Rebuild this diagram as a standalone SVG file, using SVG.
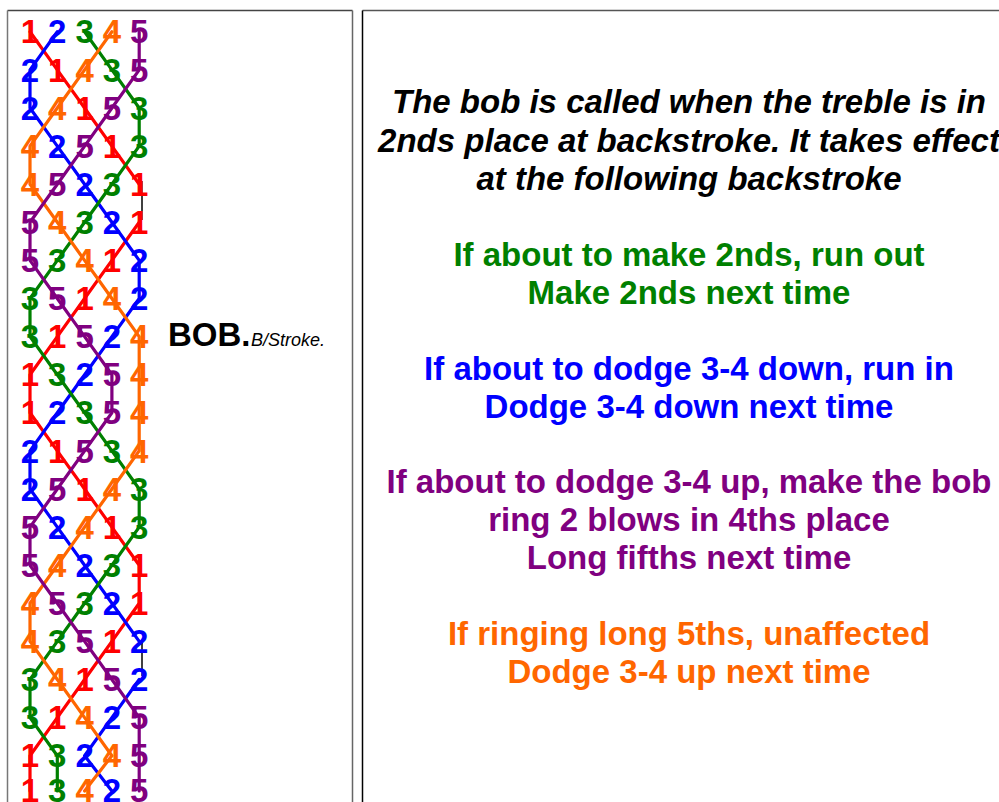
<svg xmlns="http://www.w3.org/2000/svg" width="999" height="802" viewBox="0 0 999 802">
<style>
.d{font-family:"Liberation Sans",Arial,sans-serif;font-weight:bold;font-size:33px;text-anchor:middle}
.b1{fill:#ff0000}.b2{fill:#0000ff}.b3{fill:#008000}.b4{fill:#ff6600}.b5{fill:#800080}
.l{fill:none;stroke-width:3.2;stroke-linejoin:round;stroke-linecap:round}
.s1{stroke:#ff0000}.s2{stroke:#0000ff}.s3{stroke:#008000}.s4{stroke:#ff6600}.s5{stroke:#800080}
.blk{stroke:#000;stroke-width:1.5}
.t{font-family:"Liberation Sans",Arial,sans-serif;font-weight:bold;font-size:33px;text-anchor:middle}
.h{font-style:italic;fill:#000}
</style>
<rect width="999" height="802" fill="#fff"/>
<g id="frame" fill="none">
<line x1="7.5" y1="10.5" x2="352.5" y2="10.5" stroke="#444" stroke-width="1.5"/>
<line x1="7.5" y1="10.5" x2="7.5" y2="802" stroke="#777" stroke-width="1.5"/>
<line x1="352.5" y1="10.5" x2="352.5" y2="802" stroke="#666" stroke-width="1.5"/>
<line x1="362.5" y1="10.5" x2="999" y2="10.5" stroke="#555" stroke-width="1.5"/>
<line x1="362.5" y1="10.5" x2="362.5" y2="802" stroke="#000" stroke-width="1.5"/>
</g>
<g id="connectors">
<polyline class="l s1" points="30,31.8 57.3,69.9 84.6,108 111.9,146.1 139.2,184.2"/>
<polyline class="l s1" points="139.2,222.3 111.9,260.4 84.6,298.5 57.3,336.6 30,374.7 30,412.8 57.3,450.9 84.6,489 111.9,527.1 139.2,565.2 139.2,603.3 111.9,641.4 84.6,679.5 57.3,717.6 30,755.7 30,791"/>
<polyline class="l s2" points="57.3,31.8 30,69.9 30,108 57.3,146.1 84.6,184.2 111.9,222.3 139.2,260.4 139.2,298.5 111.9,336.6 84.6,374.7 57.3,412.8 30,450.9 30,489 57.3,527.1 84.6,565.2 111.9,603.3 139.2,641.4"/>
<polyline class="l s2" points="139.2,679.5 111.9,717.6 84.6,755.7 111.9,791"/>
<polyline class="l s3" points="84.6,31.8 111.9,69.9 139.2,108 139.2,146.1 111.9,184.2 84.6,222.3 57.3,260.4 30,298.5 30,336.6 57.3,374.7 84.6,412.8 111.9,450.9 139.2,489 139.2,527.1 111.9,565.2 84.6,603.3 57.3,641.4 30,679.5 30,717.6 57.3,755.7 57.3,791"/>
<polyline class="l s4" points="111.9,31.8 84.6,69.9 57.3,108 30,146.1 30,184.2 57.3,222.3 84.6,260.4 111.9,298.5 139.2,336.6 139.2,374.7 139.2,412.8 139.2,450.9 111.9,489 84.6,527.1 57.3,565.2 30,603.3 30,641.4 57.3,679.5 84.6,717.6 111.9,755.7 84.6,791"/>
<polyline class="l s5" points="139.2,31.8 139.2,69.9 111.9,108 84.6,146.1 57.3,184.2 30,222.3 30,260.4 57.3,298.5 84.6,336.6 111.9,374.7 111.9,412.8 84.6,450.9 57.3,489 30,527.1 30,565.2 57.3,603.3 84.6,641.4 111.9,679.5 139.2,717.6 139.2,755.7 139.2,791"/>
<line class="blk" x1="142" y1="181" x2="142" y2="220"/>
<line class="blk" x1="142" y1="640" x2="142" y2="676"/>
</g>
<g id="rows" class="d">
<text id="row1" y="43.4"><tspan x="30" class="b1">1</tspan><tspan x="57.3" class="b2">2</tspan><tspan x="84.6" class="b3">3</tspan><tspan x="111.9" class="b4">4</tspan><tspan x="139.2" class="b5">5</tspan></text>
<text id="row2" y="81.5"><tspan x="30" class="b2">2</tspan><tspan x="57.3" class="b1">1</tspan><tspan x="84.6" class="b4">4</tspan><tspan x="111.9" class="b3">3</tspan><tspan x="139.2" class="b5">5</tspan></text>
<text id="row3" y="119.6"><tspan x="30" class="b2">2</tspan><tspan x="57.3" class="b4">4</tspan><tspan x="84.6" class="b1">1</tspan><tspan x="111.9" class="b5">5</tspan><tspan x="139.2" class="b3">3</tspan></text>
<text id="row4" y="157.7"><tspan x="30" class="b4">4</tspan><tspan x="57.3" class="b2">2</tspan><tspan x="84.6" class="b5">5</tspan><tspan x="111.9" class="b1">1</tspan><tspan x="139.2" class="b3">3</tspan></text>
<text id="row5" y="195.8"><tspan x="30" class="b4">4</tspan><tspan x="57.3" class="b5">5</tspan><tspan x="84.6" class="b2">2</tspan><tspan x="111.9" class="b3">3</tspan><tspan x="139.2" class="b1">1</tspan></text>
<text id="row6" y="233.9"><tspan x="30" class="b5">5</tspan><tspan x="57.3" class="b4">4</tspan><tspan x="84.6" class="b3">3</tspan><tspan x="111.9" class="b2">2</tspan><tspan x="139.2" class="b1">1</tspan></text>
<text id="row7" y="272"><tspan x="30" class="b5">5</tspan><tspan x="57.3" class="b3">3</tspan><tspan x="84.6" class="b4">4</tspan><tspan x="111.9" class="b1">1</tspan><tspan x="139.2" class="b2">2</tspan></text>
<text id="row8" y="310.1"><tspan x="30" class="b3">3</tspan><tspan x="57.3" class="b5">5</tspan><tspan x="84.6" class="b1">1</tspan><tspan x="111.9" class="b4">4</tspan><tspan x="139.2" class="b2">2</tspan></text>
<text id="row9" y="348.2"><tspan x="30" class="b3">3</tspan><tspan x="57.3" class="b1">1</tspan><tspan x="84.6" class="b5">5</tspan><tspan x="111.9" class="b2">2</tspan><tspan x="139.2" class="b4">4</tspan></text>
<text id="row10" y="386.3"><tspan x="30" class="b1">1</tspan><tspan x="57.3" class="b3">3</tspan><tspan x="84.6" class="b2">2</tspan><tspan x="111.9" class="b5">5</tspan><tspan x="139.2" class="b4">4</tspan></text>
<text id="row11" y="424.4"><tspan x="30" class="b1">1</tspan><tspan x="57.3" class="b2">2</tspan><tspan x="84.6" class="b3">3</tspan><tspan x="111.9" class="b5">5</tspan><tspan x="139.2" class="b4">4</tspan></text>
<text id="row12" y="462.5"><tspan x="30" class="b2">2</tspan><tspan x="57.3" class="b1">1</tspan><tspan x="84.6" class="b5">5</tspan><tspan x="111.9" class="b3">3</tspan><tspan x="139.2" class="b4">4</tspan></text>
<text id="row13" y="500.6"><tspan x="30" class="b2">2</tspan><tspan x="57.3" class="b5">5</tspan><tspan x="84.6" class="b1">1</tspan><tspan x="111.9" class="b4">4</tspan><tspan x="139.2" class="b3">3</tspan></text>
<text id="row14" y="538.7"><tspan x="30" class="b5">5</tspan><tspan x="57.3" class="b2">2</tspan><tspan x="84.6" class="b4">4</tspan><tspan x="111.9" class="b1">1</tspan><tspan x="139.2" class="b3">3</tspan></text>
<text id="row15" y="576.8"><tspan x="30" class="b5">5</tspan><tspan x="57.3" class="b4">4</tspan><tspan x="84.6" class="b2">2</tspan><tspan x="111.9" class="b3">3</tspan><tspan x="139.2" class="b1">1</tspan></text>
<text id="row16" y="614.9"><tspan x="30" class="b4">4</tspan><tspan x="57.3" class="b5">5</tspan><tspan x="84.6" class="b3">3</tspan><tspan x="111.9" class="b2">2</tspan><tspan x="139.2" class="b1">1</tspan></text>
<text id="row17" y="653"><tspan x="30" class="b4">4</tspan><tspan x="57.3" class="b3">3</tspan><tspan x="84.6" class="b5">5</tspan><tspan x="111.9" class="b1">1</tspan><tspan x="139.2" class="b2">2</tspan></text>
<text id="row18" y="691.1"><tspan x="30" class="b3">3</tspan><tspan x="57.3" class="b4">4</tspan><tspan x="84.6" class="b1">1</tspan><tspan x="111.9" class="b5">5</tspan><tspan x="139.2" class="b2">2</tspan></text>
<text id="row19" y="729.2"><tspan x="30" class="b3">3</tspan><tspan x="57.3" class="b1">1</tspan><tspan x="84.6" class="b4">4</tspan><tspan x="111.9" class="b2">2</tspan><tspan x="139.2" class="b5">5</tspan></text>
<text id="row20" y="767.3"><tspan x="30" class="b1">1</tspan><tspan x="57.3" class="b3">3</tspan><tspan x="84.6" class="b2">2</tspan><tspan x="111.9" class="b4">4</tspan><tspan x="139.2" class="b5">5</tspan></text>
<text id="row21" y="801.5"><tspan x="30" class="b1">1</tspan><tspan x="57.3" class="b3">3</tspan><tspan x="84.6" class="b4">4</tspan><tspan x="111.9" class="b2">2</tspan><tspan x="139.2" class="b5">5</tspan></text>
</g>
<g id="bob-label" font-family="'Liberation Sans',Arial,sans-serif" fill="#000">
<text x="168" y="345.7" font-size="33" font-weight="bold">BOB.</text>
<text x="251" y="345.7" font-size="18" font-style="italic">B/Stroke.</text>
</g>
<g id="notes" class="t">
<g id="heading" class="h">
<text x="689" y="113" textLength="594" lengthAdjust="spacingAndGlyphs">The bob is called when the treble is in</text>
<text x="689" y="151.5" textLength="622" lengthAdjust="spacingAndGlyphs">2nds place at backstroke. It takes effect</text>
<text x="689" y="190" textLength="425" lengthAdjust="spacingAndGlyphs">at the following backstroke</text>
</g>
<g id="note-2nds" fill="#008000">
<text x="689" y="265.5">If about to make 2nds, run out</text>
<text x="689" y="303.5">Make 2nds next time</text>
</g>
<g id="note-down" fill="#0000ff">
<text x="689" y="379.5">If about to dodge 3-4 down, run in</text>
<text x="689" y="417.5">Dodge 3-4 down next time</text>
</g>
<g id="note-up" fill="#800080">
<text x="689" y="493">If about to dodge 3-4 up, make the bob</text>
<text x="689" y="531">ring 2 blows in 4ths place</text>
<text x="689" y="569">Long fifths next time</text>
</g>
<g id="note-5ths" fill="#ff6600">
<text x="689" y="645">If ringing long 5ths, unaffected</text>
<text x="689" y="683">Dodge 3-4 up next time</text>
</g>
</g>
</svg>
